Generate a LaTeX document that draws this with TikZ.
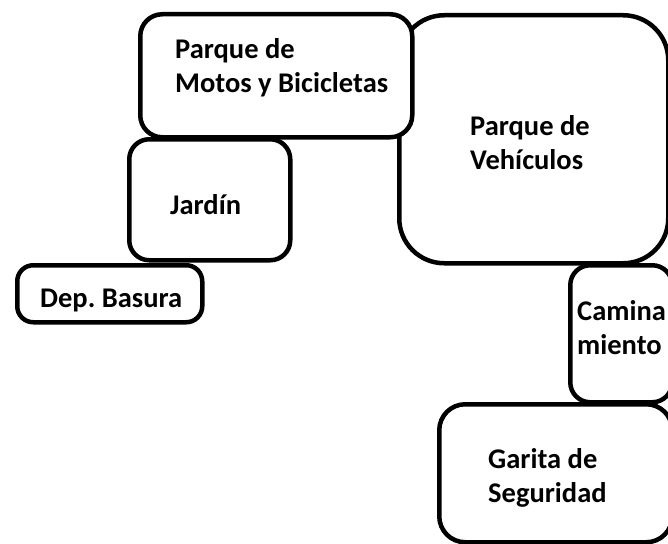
\documentclass[tikz,border=0pt]{standalone}
\usepackage{fontspec}
\setmainfont{Carlito}
\frenchspacing
\tikzset{
  area/.style={draw=black, fill=white, line width=4.5pt, inner sep=0pt, anchor=north west},
  lbl/.style={font=\fontsize{28.5}{34}\selectfont\bfseries, align=left, anchor=west, inner sep=0pt}
}
\begin{document}
\begin{tikzpicture}[x=1pt,y=-1pt]
\useasboundingbox[fill=white] (0,0) rectangle (668,543);
\node[area, rounded corners=45pt, minimum width=269pt, minimum height=248pt] (veh) at (397,13) {};
\node[area, rounded corners=22pt, minimum width=272pt, minimum height=123pt] (motos) at (138,12) {};
\node[area, rounded corners=20pt, minimum width=161pt, minimum height=121pt] (jardin) at (127,137) {};
\node[area, rounded corners=16pt, minimum width=185pt, minimum height=57pt] (basura) at (15,263) {};
\node[area, rounded corners=20pt, minimum width=102pt, minimum height=137pt] (camina) at (568,263) {};
\node[area, rounded corners=26pt, minimum width=233pt, minimum height=138pt] (garita) at (437,402) {};
\node[lbl] (tmotos) at (175,68) {Parque de\\Motos y Bicicletas};
\node[lbl] (tveh) at (470,143) {Parque de\\Vehículos};
\node[lbl] (tjardin) at (170,205) {Jardín};
\node[lbl] (tbasura) at (40,300) {Dep. Basura};
\node[lbl] (tcamina) at (577,328) {Camina\\miento};
\node[lbl] (tgarita) at (488,478) {Garita de\\Seguridad};
\end{tikzpicture}
\end{document}
